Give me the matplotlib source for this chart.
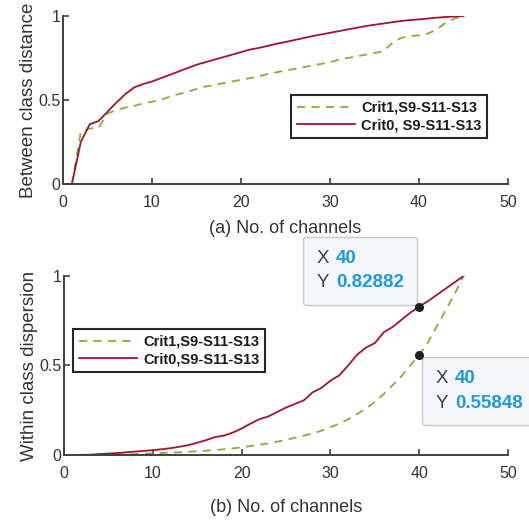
import numpy as np
import matplotlib.pyplot as plt
from matplotlib.offsetbox import TextArea, HPacker, VPacker, AnnotationBbox

plt.rcParams['font.family'] = ['Liberation Sans', 'DejaVu Sans']

channels = np.arange(1, 46)

# (a) between class distance
between_crit1 = [0.0, 0.31, 0.33, 0.335, 0.42, 0.44, 0.455, 0.465, 0.48, 0.49,
                 0.50, 0.52, 0.535, 0.55, 0.565, 0.58, 0.59, 0.60, 0.61, 0.62,
                 0.63, 0.64, 0.655, 0.665, 0.675, 0.685, 0.695, 0.705, 0.715, 0.725,
                 0.74, 0.75, 0.76, 0.77, 0.78, 0.79, 0.84, 0.87, 0.88, 0.885,
                 0.895, 0.92, 0.96, 0.985, 1.0]
between_crit0 = [0.0, 0.25, 0.355, 0.375, 0.43, 0.485, 0.535, 0.575, 0.595, 0.61,
                 0.63, 0.65, 0.67, 0.69, 0.71, 0.725, 0.74, 0.755, 0.77, 0.785,
                 0.80, 0.81, 0.822, 0.835, 0.845, 0.857, 0.868, 0.88, 0.89, 0.90,
                 0.91, 0.92, 0.93, 0.94, 0.948, 0.955, 0.963, 0.97, 0.976, 0.98,
                 0.985, 0.99, 0.994, 0.997, 1.0]

# (b) within class dispersion
within_crit1 = [0.0, 0.0, 0.0, 0.001, 0.002, 0.003, 0.004, 0.005, 0.007, 0.009,
                0.011, 0.013, 0.015, 0.018, 0.021, 0.024, 0.028, 0.032, 0.037, 0.043,
                0.05, 0.057, 0.065, 0.074, 0.085, 0.096, 0.108, 0.12, 0.136, 0.155,
                0.175, 0.2, 0.228, 0.26, 0.296, 0.34, 0.39, 0.44, 0.5, 0.55848,
                0.63, 0.72, 0.81, 0.9, 1.0]
within_crit0 = [0.0, 0.0, 0.002, 0.005, 0.008, 0.011, 0.015, 0.019, 0.023, 0.027,
                0.032, 0.038, 0.046, 0.055, 0.068, 0.083, 0.1, 0.108, 0.125, 0.148,
                0.175, 0.2, 0.215, 0.24, 0.265, 0.285, 0.305, 0.35, 0.375, 0.415,
                0.445, 0.5, 0.56, 0.6, 0.625, 0.685, 0.715, 0.755, 0.795, 0.82882,
                0.86, 0.895, 0.93, 0.965, 1.0]

labels_a = ['Crit1,S9-S11-S13', 'Crit0, S9-S11-S13']
labels_b = ['Crit1,S9-S11-S13', 'Crit0,S9-S11-S13']

tip_x = 40
tip_crit0 = 0.82882
tip_crit1 = 0.55848

red = '#A2142F'
green = '#7FB13C'
axis_col = '#404040'
text_col = '#333333'
blue = '#1E9AE0'

fig = plt.figure(figsize=(5.29, 5.21), dpi=100)
ax1 = fig.add_axes([0.1191, 0.6468, 0.8412, 0.3225])
ax2 = fig.add_axes([0.121, 0.1267, 0.8393, 0.3436])


def style(ax):
    for s in ['top', 'right']:
        ax.spines[s].set_visible(False)
    for s in ['left', 'bottom']:
        ax.spines[s].set_color(axis_col)
        ax.spines[s].set_linewidth(1.4)
    ax.set_xlim(0, 50)
    ax.set_ylim(0, 1)
    ax.set_xticks([0, 10, 20, 30, 40, 50])
    ax.set_yticks([0, 0.5, 1])
    ax.set_yticklabels(['0', '0.5', '1'])
    ax.tick_params(direction='in', length=4, width=1.2, color=axis_col,
                   labelcolor=text_col, labelsize=11.5)
    ax.tick_params(axis='x', pad=8)
    ax.tick_params(axis='y', pad=2)


def legend(ax, labels, **kw):
    lg = ax.legend(labels, prop=dict(weight='bold', size=10.5), handlelength=4.0,
                   handletextpad=0.4, borderpad=0.4, labelspacing=0.22,
                   borderaxespad=0, fancybox=False, framealpha=1, **kw)
    lg.get_frame().set_edgecolor('#262626')
    lg.get_frame().set_linewidth(1.5)
    for t in lg.get_texts():
        t.set_color('#1a1a1a')


def tip(ax, y, offset, align):
    fs = 13.5
    row1 = HPacker(children=[TextArea('X', textprops=dict(color='#404040', size=fs)),
                             TextArea(f'{tip_x}', textprops=dict(color=blue, size=fs, weight='bold'))],
                   sep=5, pad=0, align='baseline')
    row2 = HPacker(children=[TextArea('Y', textprops=dict(color='#404040', size=fs)),
                             TextArea(f'{y:.5f}', textprops=dict(color=blue, size=fs, weight='bold'))],
                   sep=5, pad=0, align='baseline')
    box = VPacker(children=[row1, row2], sep=5.5, pad=9.5, align='left')
    ab = AnnotationBbox(box, (tip_x, y), xybox=offset, boxcoords='offset pixels',
                        box_alignment=align, pad=0, frameon=True, annotation_clip=False,
                        bboxprops=dict(boxstyle='round,pad=0,rounding_size=0.2',
                                       fc='#F5F7FA', ec='#C9C9C9', lw=1))
    ab.set_zorder(6)
    ax.add_artist(ab)
    ax.plot(tip_x, y, 'o', color='#1f1f1f', ms=5.5, zorder=7, clip_on=False)


# (a)
ax1.plot(channels, between_crit1, color=green, lw=1.3, dashes=(4.5, 3.5))
ax1.plot(channels, between_crit0, color=red, lw=1.3)
style(ax1)
ax1.set_ylabel('Between class distance', fontsize=13.5, color=text_col, labelpad=1)
ax1.set_xlabel('(a) No. of channels', fontsize=13, color=text_col, labelpad=7)
legend(ax1, labels_a, loc='upper right', bbox_to_anchor=(0.953, 0.530))

# (b)
ax2.plot(channels, within_crit1, color=green, lw=1.3, dashes=(4.5, 3.5))
ax2.plot(channels, within_crit0, color=red, lw=1.3)
style(ax2)
ax2.set_ylabel('Within class dispersion', fontsize=13.5, color=text_col, labelpad=1)
ax2.set_xlabel('(b) No. of channels', fontsize=13, color=text_col, labelpad=13)
legend(ax2, labels_b, loc='upper left', bbox_to_anchor=(0.02, 0.704))

tip(ax2, tip_crit0, (-2, 2), (1, 0))
tip(ax2, tip_crit1, (3, -2), (0, 1))

fig.savefig('out.png', dpi=100)
